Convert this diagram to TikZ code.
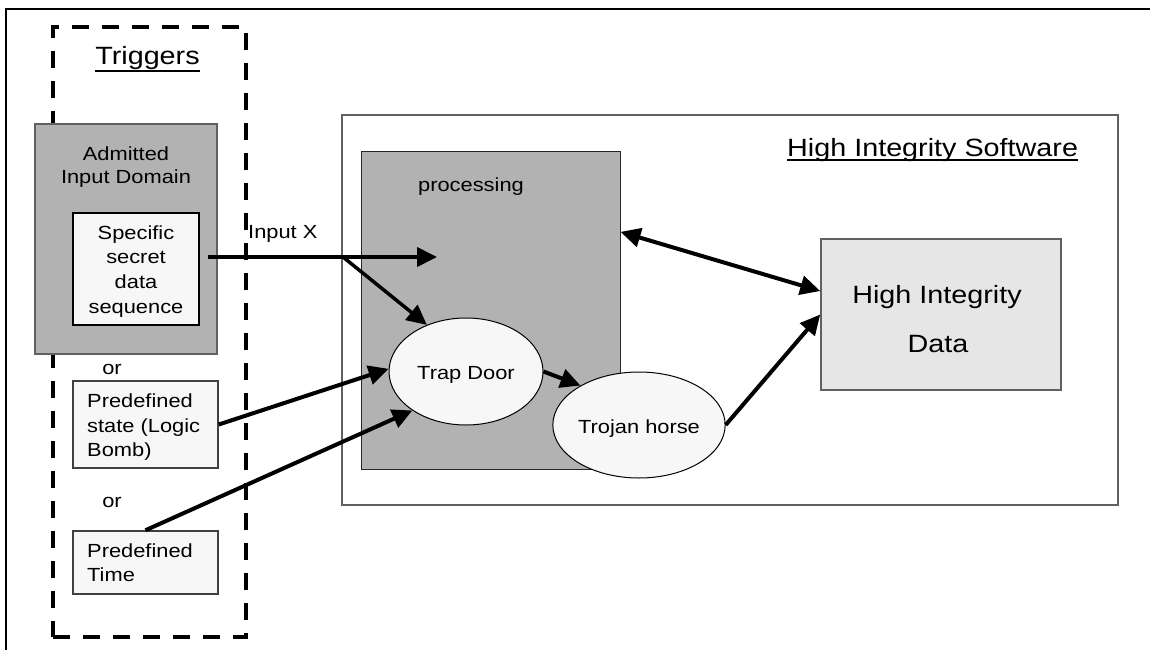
\documentclass[tikz,border=0pt]{standalone}
\usepackage{fontspec}
\setmainfont{Liberation Sans}[FakeStretch=1.15]
\usetikzlibrary{arrows.meta,shapes.geometric}
\definecolor{procgray}{HTML}{B2B2B2}
\definecolor{datagray}{HTML}{E6E6E6}
\definecolor{offwhite}{HTML}{F7F7F7}
\definecolor{edgegray}{HTML}{606060}
\begin{document}
\begin{tikzpicture}[x=1pt,y=-1pt,
  txt/.style={font=\fontsize{19}{24}\selectfont, inner sep=0pt, anchor=base},
  txtl/.style={txt, anchor=base west},
  big/.style={font=\fontsize{25}{30}\selectfont, inner sep=0pt, anchor=base},
  box/.style={rectangle, inner sep=0pt, draw},
  oval/.style={ellipse, draw=black, line width=1pt, fill=offwhite, inner sep=0pt,
    minimum width=154pt, font=\fontsize{19}{24}\selectfont, text height=16pt, text depth=0pt},
  arr/.style={line width=4pt, -{Triangle[length=20pt,width=19pt]}},
  darr/.style={line width=4pt, {Triangle[length=20pt,width=19pt]}-{Triangle[length=20pt,width=19pt]}},
  trigbox/.style={rectangle, draw=black, line width=3.5pt, dash pattern=on 17pt off 13pt, inner sep=0pt},
  uline/.style={line width=2.5pt}
  ]
\useasboundingbox (0,0) rectangle (1150,650);
% outer frame
\draw[line width=2pt] (6,650) -- (6,9) -- (1150,9);
% triggers dashed region
\node[trigbox, minimum width=193pt, minimum height=610pt] (trig) at (149.5,332) {};
% high integrity software region
\node[box, draw=edgegray, line width=1.5pt, minimum width=776pt, minimum height=390pt] (his) at (730,310) {};
% processing
\node[box, draw=black!85, line width=1pt, fill=procgray, minimum width=259pt, minimum height=318pt] (proc) at (490.5,310) {};
% admitted input domain
\node[box, draw=edgegray, line width=1.2pt, fill=procgray, minimum width=182pt, minimum height=230pt] (aid) at (126,239) {};
\node[box, draw=black, line width=2pt, fill=offwhite, minimum width=126pt, minimum height=112pt] (spec) at (136,269) {};
\node[box, draw=black!75, line width=1.5pt, fill=offwhite, minimum width=145pt, minimum height=87pt] (pstate) at (145.5,424.5) {};
\node[box, draw=black!75, line width=1.5pt, fill=offwhite, minimum width=145pt, minimum height=63pt] (ptime) at (145.5,562.5) {};
% data
\node[box, draw=edgegray, line width=1.5pt, fill=datagray, minimum width=240pt, minimum height=151pt] (data) at (941,314.5) {};
% ellipses
\node[oval, minimum height=107pt] (trap) at (466,371.5) {Trap Door};
\node[oval, minimum height=106pt] (trojan) at (639,425) {Trojan horse};

% texts
\node[big] (ttrig) at (147.5,65) {Triggers};
\draw[uline] ([yshift=-6pt]ttrig.base west) -- ([yshift=-6pt]ttrig.base east);
\node[big, anchor=base west] (this) at (787,156) {High Integrity Software};
\draw[uline] ([yshift=-4pt]this.base west) -- ([yshift=-4pt]this.base east);
\node[txt] (tadm1) at (126,160) {Admitted};
\node[txt] (tadm2) at (126,183) {Input Domain};
\node[txt] (tsp1) at (136,239) {Specific};
\node[txt] (tsp2) at (136,263) {secret};
\node[txt] (tsp3) at (136,288) {data};
\node[txt] (tsp4) at (136,313) {sequence};
\node[txt] (tor1) at (112,374) {or};
\node[txt] (tor2) at (112,507) {or};
\node[txtl] (tps1) at (87,407) {Predefined};
\node[txtl] (tps2) at (87,432) {state (Logic};
\node[txtl] (tps3) at (87,456) {Bomb)};
\node[txtl] (tpt1) at (87,557) {Predefined};
\node[txtl] (tpt2) at (87,581) {Time};
\node[txt] (tproc) at (471,191) {processing};
\node[txtl] (tinx) at (248,238) {Input X};
\node[big] (tdat1) at (937,303) {High Integrity};
\node[big] (tdat2) at (938,352) {Data};

% connectors
\coordinate (xs) at (208,257);
\coordinate (xb) at (343,257);
\coordinate (xe) at (437,257);
\draw[arr] (xs) -- (xe);
\draw[arr, line width=3.5pt] (xb) -- (trap.130);
\draw[darr] (proc.31) -- (data.169);
\draw[arr] (trap.east) -- (trojan.146);
\draw[arr] (trojan.east) -- (data.west);
\draw[arr] (pstate.east) -- (trap.178);
\draw[arr] (ptime.north) -- (trap.216);
\end{tikzpicture}
\end{document}
